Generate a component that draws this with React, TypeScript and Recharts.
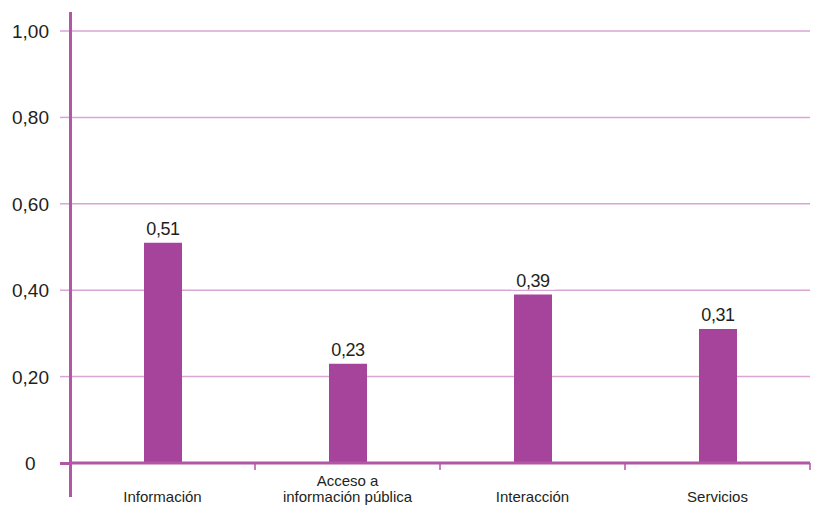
import { Bar, BarChart, CartesianGrid, LabelList, XAxis, YAxis } from "recharts"

const categories = ["Información", "Acceso a\ninformación pública", "Interacción", "Servicios"]
const values = [0.51, 0.23, 0.39, 0.31]
const yTicks = [0, 0.2, 0.4, 0.6, 0.8, 1]

const data = categories.map((name, i) => ({ name, value: values[i] }))

const BAR = "#a5449a"
const AXIS = "#b256a6"
const GRID = "#d9a5d3"
const TEXT = "#231f20"
const FONT = "'Liberation Sans', Arial, sans-serif"

const fmt = (v: number) => (v === 0 ? "0" : v.toFixed(2).replace(".", ","))

function YTick(props: any) {
  const { y, payload } = props
  const v = payload.value as number
  return (
    <text x={v === 0 ? 25 : 12} y={y} dy={7} textAnchor="start" fontSize={19} fill={TEXT} fontFamily={FONT}>
      {fmt(v)}
    </text>
  )
}

// category label + divider tick at the right edge of each band
function XTick(props: any) {
  const { x, y, payload, width, visibleTicksCount } = props
  const half = width && visibleTicksCount ? width / visibleTicksCount / 2 : 92.5
  const lines = String(payload.value).split("\n")
  return (
    <g>
      <line x1={x + half} x2={x + half} y1={y - 8} y2={y - 1} stroke={AXIS} strokeWidth={1.5} />
      {lines.map((line, i) => (
        <text
          key={i}
          x={x}
          y={y + 31 - (lines.length - 1 - i) * 16}
          textAnchor="middle"
          fontSize={15}
          fill={TEXT}
          fontFamily={FONT}
        >
          {line}
        </text>
      ))}
    </g>
  )
}

function ValueLabel(props: any) {
  const { x, y, width, value } = props
  const cx = x + width / 2
  return (
    <g>
      <rect x={cx - 22} y={y - 27} width={44} height={22} fill="#fff" />
      <text x={cx} y={y - 8} textAnchor="middle" fontSize={18} fill={TEXT} fontFamily={FONT} letterSpacing={-0.4}>
        {fmt(value)}
      </text>
    </g>
  )
}

export default function App() {
  return (
    <div style={{ position: "absolute", left: 0, top: 0, width: 815, height: 522, background: "#fff" }}>
      <BarChart width={815} height={522} data={data} margin={{ top: 31, right: 5, left: 0, bottom: 0 }}>
        <CartesianGrid vertical={false} stroke={GRID} strokeWidth={1.5} />
        <XAxis
          dataKey="name"
          height={59}
          interval={0}
          axisLine={{ stroke: AXIS, strokeWidth: 3 }}
          tickLine={false}
          tick={<XTick />}
        />
        <YAxis
          width={70}
          domain={[0, 1]}
          ticks={yTicks}
          axisLine={false}
          tickSize={10}
          tickLine={{ stroke: GRID, strokeWidth: 1.5 }}
          tick={<YTick />}
        />
        <Bar dataKey="value" fill={BAR} barSize={38} isAnimationActive={false}>
          <LabelList dataKey="value" content={<ValueLabel />} />
        </Bar>
      </BarChart>
      <div style={{ position: "absolute", left: 69, top: 12, width: 3, height: 485, background: AXIS }} />
      <div style={{ position: "absolute", left: 60, top: 462, width: 10, height: 3, background: AXIS }} />
    </div>
  )
}
